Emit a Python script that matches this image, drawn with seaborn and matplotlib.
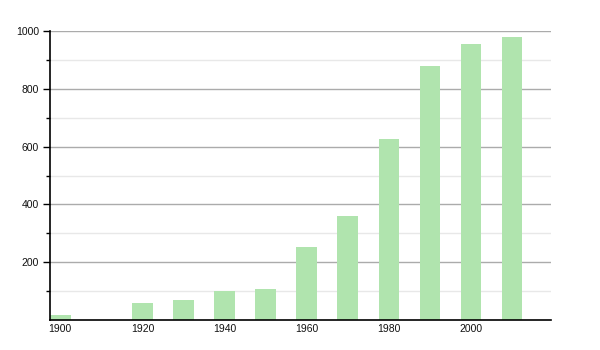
import matplotlib
matplotlib.use("Agg")
import matplotlib.pyplot as plt
import seaborn as sns
import pandas as pd
from matplotlib.ticker import FixedLocator

years = [1900, 1920, 1930, 1940, 1950, 1960, 1970, 1980, 1990, 2000, 2010]
values = [18, 60, 70, 99, 108, 254, 360, 626, 880, 956, 978]
xticks = [1900, 1920, 1940, 1960, 1980, 2000]
yticks = [200, 400, 600, 800, 1000]
yminor = [100, 300, 500, 700, 900]

sns.set_style("white")
plt.rcParams['font.family'] = ['Liberation Sans', 'DejaVu Sans']

df = pd.DataFrame({"year": years, "value": values})

fig = plt.figure(figsize=(6, 3.5), dpi=100)
ax = fig.add_axes([50/600, 1-320/350, 501/600, 289/350])

sns.barplot(data=df, x="year", y="value", native_scale=True, width=0.5,
            color="#b0e4ae", saturation=1, ax=ax, zorder=3, edgecolor="none")

ax.set_xlim(1897.5, 2019.5)
ax.set_ylim(0, 1000)
ax.yaxis.set_major_locator(FixedLocator(yticks))
ax.yaxis.set_minor_locator(FixedLocator(yminor))
ax.set_xticks(xticks)
ax.set_xticklabels([str(t) for t in xticks])
ax.grid(True, axis="y", which="major", color="#ababab", lw=1, zorder=1)
ax.grid(True, axis="y", which="minor", color="#e8e8e8", lw=1, zorder=1)
ax.set_axisbelow(True)
ax.set_xlabel("")
ax.set_ylabel("")

for s in ["top", "right"]:
    ax.spines[s].set_visible(False)
for s in ["left", "bottom"]:
    ax.spines[s].set_visible(True)
    ax.spines[s].set_color("black")
    ax.spines[s].set_linewidth(1.2)
    ax.spines[s].set_zorder(4)

ax.tick_params(axis="y", which="major", direction="out", length=5, width=1, color="black",
               labelsize=7.5, pad=3, left=True, labelcolor="#111111")
ax.tick_params(axis="y", which="minor", direction="out", length=3, width=1, color="black", left=True)
ax.tick_params(axis="x", which="both", length=0, labelsize=7.5, pad=3, labelcolor="#111111")

fig.savefig("out.png", dpi=100)
